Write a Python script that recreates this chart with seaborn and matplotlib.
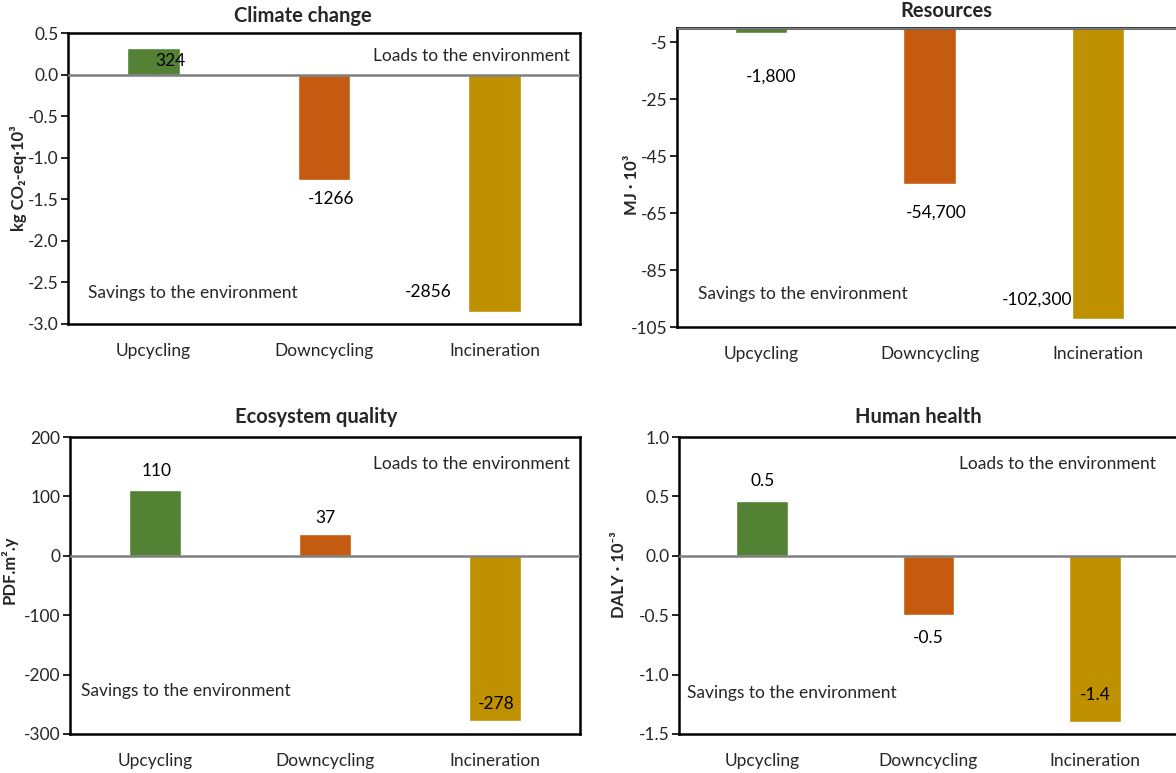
import matplotlib
matplotlib.use("Agg")
import matplotlib.pyplot as plt
import seaborn as sns
import pandas as pd

# Scenario categories and their bar colours
categories = ["Upcycling", "Downcycling", "Incineration"]
bar_colors = ["#548235", "#C55A11", "#BF9000"]

# Impact results per scenario
climate_kg = [324, -1266, -2856]            # kg CO2-eq
resources_mj = [-1800, -54700, -102300]     # MJ
ecosystem_pdf = [110, 37, -278]             # PDF.m2.y
health_daly = [0.46, -0.50, -1.40]          # DALY x 10^-3

# Y-axis tick values per panel
climate_ticks = [0.5, 0.0, -0.5, -1.0, -1.5, -2.0, -2.5, -3.0]
resources_ticks = [-5, -25, -45, -65, -85, -105]
ecosystem_ticks = [200, 100, 0, -100, -200, -300]
health_ticks = [1.0, 0.5, 0.0, -0.5, -1.0, -1.5]

sns.set_theme(style="ticks")
plt.rcParams["font.family"] = ["Lato", "DejaVu Sans"]

W, H = 1176, 773
fig = plt.figure(figsize=(W / 100, H / 100), dpi=100)


def px_axes(left, top, right, bottom):
    return fig.add_axes([left / W, 1 - bottom / H, (right - left) / W, (bottom - top) / H])


TICK_FS = 12.5
TEXT_FS = 12.5


def draw_panel(ax, values, scale, ylim, yticks, tick_fmt, label_fmt, ylabel,
               title, title_xy, ylabel_xy, label_offsets, loads_xy, savings_xy):
    df = pd.DataFrame({"category": categories,
                       "value": [v * scale for v in values]})
    sns.barplot(data=df, x="category", y="value", hue="category",
                palette=bar_colors, width=0.31, saturation=1, legend=False,
                ax=ax, zorder=2)
    ax.set_xlim(-0.5, 2.5)
    ax.set_ylim(*ylim)
    ax.set_yticks(yticks)
    ax.set_yticklabels([tick_fmt(t) for t in yticks], fontsize=TICK_FS)
    ax.tick_params(axis="y", direction="out", length=5, width=1.2,
                   color="black", pad=2)
    ax.tick_params(axis="x", length=0, pad=14, labelsize=TICK_FS)
    ax.set_xlabel("")
    ax.set_ylabel(ylabel, fontsize=12, fontweight="bold")
    ax.yaxis.set_label_coords(*ylabel_xy)
    for sp in ax.spines.values():
        sp.set_visible(True)
        sp.set_color("black")
        sp.set_linewidth(1.8)
    ax.axhline(0, color="#7f7f7f", lw=1.8, zorder=3)
    ax.text(*title_xy, title, transform=ax.transAxes, ha="center",
            va="center", fontsize=14.5, fontweight="bold")
    for i, (raw, (dx, dy)) in enumerate(zip(values, label_offsets)):
        v = raw * scale
        ax.text(i + dx, v + dy, label_fmt(raw), ha="center", va="center",
                fontsize=TEXT_FS, color="black", zorder=4)
    if loads_xy is not None:
        ax.text(*loads_xy, "Loads to the environment", transform=ax.transAxes,
                ha="right", va="center", fontsize=TEXT_FS)
    ax.text(*savings_xy, "Savings to the environment", transform=ax.transAxes,
            ha="left", va="center", fontsize=TEXT_FS)


# Climate change
ax1 = px_axes(68, 33, 580, 324)
draw_panel(ax1, climate_kg, 1e-3, (-3.0, 0.5), climate_ticks,
           lambda t: f"{t:.1f}", lambda r: f"{r:d}",
           "kg CO₂-eq·10³", "Climate change", (0.459, 1.058),
           (-0.080, 0.50),
           [(0.10, -0.155), (0.04, -0.228), (-0.39, 0.242)],
           (0.980, 0.921), (0.039, 0.107))

# Resources
ax2 = px_axes(677, 28, 1182, 327)
draw_panel(ax2, resources_mj, 1e-3, (-105, 0), resources_ticks,
           lambda t: f"{t:d}", lambda r: f"{r:,d}",
           "MJ · 10³", "Resources", (0.533, 1.057),
           (-0.073, 0.475),
           [(0.06, -15.15), (0.04, -10.3), (-0.36, 6.8)],
           None, (0.042, 0.110))

# Ecosystem quality
ax3 = px_axes(70, 437, 580, 734)
draw_panel(ax3, ecosystem_pdf, 1, (-300, 200), ecosystem_ticks,
           lambda t: f"{t:d}", lambda r: f"{r:d}",
           "PDF.m².y", "Ecosystem quality", (0.482, 1.067),
           (-0.102, 0.552),
           [(0.01, 33), (0.0, 27), (0.01, 29)],
           (0.980, 0.909), (0.022, 0.145))

# Human health
ax4 = px_axes(679, 437, 1178, 734)
draw_panel(ax4, health_daly, 1, (-1.5, 1.0), health_ticks,
           lambda t: f"{t:.1f}", lambda r: f"{r:.1f}",
           "DALY · 10⁻³", "Human health", (0.479, 1.067),
           (-0.104, 0.535),
           [(0.0, 0.17), (0.0, -0.19), (0.0, 0.228)],
           (0.956, 0.909), (0.016, 0.138))

fig.savefig("out.png", dpi=100)
